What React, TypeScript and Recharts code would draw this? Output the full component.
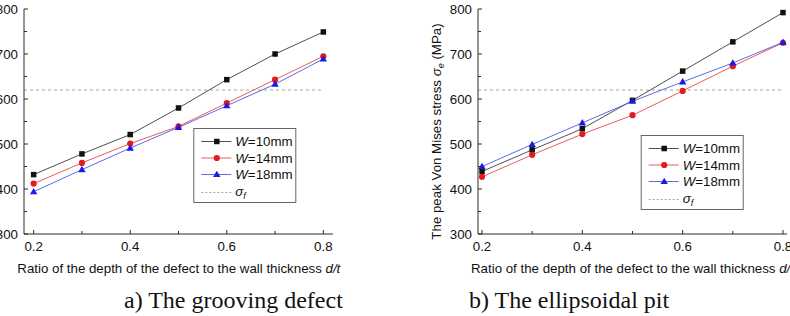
import React from "react";
import { LineChart, Line, XAxis, YAxis, ReferenceLine } from "recharts";

// depth-to-wall-thickness ratio d/t
const ratios = [0.2, 0.3, 0.4, 0.5, 0.6, 0.7, 0.8];

// peak von Mises stress (MPa), grooving defect
const grooveW10 = [432, 478, 521, 580, 643, 700, 749];
const grooveW14 = [412, 458, 501, 539, 591, 643, 695];
const grooveW18 = [394, 443, 491, 537, 585, 633, 689];

// peak von Mises stress (MPa), ellipsoidal pit
const pitW10 = [439, 487, 534, 597, 662, 727, 792];
const pitW14 = [427, 476, 522, 564, 618, 673, 725];
const pitW18 = [450, 499, 547, 595, 638, 680, 726];

// flow stress sigma_f
const flowStress = 620;

const xTicks = [0.2, 0.3, 0.4, 0.5, 0.6, 0.7, 0.8];
const yTicks = [300, 350, 400, 450, 500, 550, 600, 650, 700, 750, 800];
const widthLabels = ["10mm", "14mm", "18mm"];

const SANS = "'Liberation Sans', Arial, sans-serif";
const SERIF = "'Liberation Serif', 'Times New Roman', serif";
const FRAME = "#2a2a2a";
const DASH = "#9aab9f";

const SERIES = [
  { key: "w10", line: "#3c3c3c", fill: "#111111", shape: "square" },
  { key: "w14", line: "#e64a4a", fill: "#e31b1b", shape: "circle" },
  { key: "w18", line: "#4a5ae8", fill: "#1b1be6", shape: "triangle" },
];

const toRows = (w10: number[], w14: number[], w18: number[]) =>
  ratios.map((d, i) => ({ d, w10: w10[i], w14: w14[i], w18: w18[i] }));

const grooveRows = toRows(grooveW10, grooveW14, grooveW18);
const pitRows = toRows(pitW10, pitW14, pitW18);

function Marker({ shape, cx, cy, fill }: { shape: string; cx: number; cy: number; fill: string }) {
  if (shape === "square") {
    return <rect x={cx - 2.75} y={cy - 2.75} width={5.5} height={5.5} fill={fill} />;
  }
  if (shape === "circle") {
    return <circle cx={cx} cy={cy} r={3.1} fill={fill} />;
  }
  return (
    <polygon
      points={`${cx},${cy - 3.8} ${cx + 3.7},${cy + 2.6} ${cx - 3.7},${cy + 2.6}`}
      fill={fill}
    />
  );
}

// ticks point inward; unlabelled ones are the minor ticks
const renderXTick = (props: any) => {
  const { x, y, payload } = props;
  const major = Math.round(payload.value * 10) % 2 === 0;
  return (
    <g>
      <line x1={x} x2={x} y1={y} y2={y - (major ? 4 : 3)} stroke={FRAME} />
      {major && (
        <text x={x} y={y + 17.3} textAnchor="middle" fontFamily={SANS} fontSize={13.3} fill="#111">
          {payload.value.toFixed(1)}
        </text>
      )}
    </g>
  );
};

const renderYTick = (props: any) => {
  const { x, y, payload } = props;
  const major = payload.value % 100 === 0;
  return (
    <g>
      <line x1={x} x2={x + (major ? 4 : 3)} y1={y} y2={y} stroke={FRAME} />
      {major && (
        <text x={x - 6} y={y + 4.7} textAnchor="end" fontFamily={SANS} fontSize={13.3} fill="#111">
          {payload.value}
        </text>
      )}
    </g>
  );
};

function Panel({
  left,
  chartWidth,
  yAxisWidth,
  marginRight,
  domain,
  rows,
}: {
  left: number;
  chartWidth: number;
  yAxisWidth: number;
  marginRight: number;
  domain: [number, number];
  rows: any[];
}) {
  return (
    <div style={{ position: "absolute", left, top: 0 }}>
      <LineChart
        width={chartWidth}
        height={280}
        data={rows}
        margin={{ top: 9, right: marginRight, bottom: 6, left: 0 }}
      >
        <XAxis
          dataKey="d"
          type="number"
          domain={domain}
          ticks={xTicks}
          interval={0}
          tickSize={0}
          tickMargin={0}
          tickLine={false}
          tick={renderXTick}
          axisLine={{ stroke: FRAME }}
          height={40}
        />
        <XAxis
          xAxisId="top"
          orientation="top"
          dataKey="d"
          type="number"
          domain={domain}
          height={0}
          tick={false}
          tickLine={false}
          axisLine={{ stroke: FRAME }}
        />
        <YAxis
          type="number"
          domain={[300, 800]}
          ticks={yTicks}
          interval={0}
          tickSize={0}
          tickMargin={0}
          tickLine={false}
          tick={renderYTick}
          axisLine={{ stroke: FRAME }}
          width={yAxisWidth}
        />
        <YAxis
          yAxisId="right"
          orientation="right"
          type="number"
          domain={[300, 800]}
          width={0}
          tick={false}
          tickLine={false}
          axisLine={{ stroke: FRAME }}
        />
        <ReferenceLine
          segment={[
            { x: domain[0], y: flowStress },
            { x: 0.8, y: flowStress },
          ]}
          stroke={DASH}
          strokeDasharray="3 3"
        />
        {SERIES.map((s) => (
          <Line
            key={s.key}
            dataKey={s.key}
            type="linear"
            stroke={s.line}
            strokeWidth={0.9}
            isAnimationActive={false}
            dot={(p: any) => (
              <Marker key={`${s.key}-${p.index}`} shape={s.shape} cx={p.cx} cy={p.cy} fill={s.fill} />
            )}
            activeDot={false}
          />
        ))}
      </LineChart>
    </div>
  );
}

const legendRows = [13.5, 30, 46.5];

function LegendBox({ x, y }: { x: number; y: number }) {
  return (
    <g transform={`translate(${x},${y})`} fontFamily={SANS} fontSize={13.3} fill="#111">
      <rect x={0.5} y={0.5} width={102} height={74} fill="#fff" stroke="#666" />
      {SERIES.map((s, i) => {
        const cy = legendRows[i];
        return (
          <g key={s.key}>
            <line x1={8} x2={38} y1={cy} y2={cy} stroke={s.line} strokeWidth={0.9} />
            <Marker shape={s.shape} cx={23.5} cy={cy} fill={s.fill} />
            <text x={42} y={cy + 4.7}>
              <tspan fontStyle="italic">W</tspan>
              {"=" + widthLabels[i]}
            </text>
          </g>
        );
      })}
      <line x1={8} x2={38} y1={64.5} y2={64.5} stroke={DASH} strokeDasharray="2 2" />
      <text x={42} y={68}>
        <tspan fontStyle="italic">σ</tspan>
        <tspan fontStyle="italic" fontSize={9} dy={3}>f</tspan>
      </text>
    </g>
  );
}

function AxisTitle({ cx, y }: { cx: number; y: number }) {
  return (
    <text x={cx} y={y} textAnchor="middle" fontFamily={SANS} fontSize={13.3} fill="#111">
      Ratio of the depth of the defect to the wall thickness <tspan fontStyle="italic">d/t</tspan>
    </text>
  );
}

export default function App() {
  return (
    <div
      style={{
        position: "absolute",
        left: 0,
        top: 0,
        width: 790,
        height: 316,
        overflow: "hidden",
        background: "#fff",
      }}
    >
      <Panel left={0} chartWidth={345} yAxisWidth={24} marginRight={12} domain={[0.18, 0.82]} rows={grooveRows} />
      <Panel left={395} chartWidth={400} yAxisWidth={83} marginRight={8} domain={[0.192, 0.808]} rows={pitRows} />
      <svg
        width={790}
        height={316}
        style={{ position: "absolute", left: 0, top: 0, pointerEvents: "none" }}
      >
        <AxisTitle cx={178.8} y={273} />
        <AxisTitle cx={632.5} y={273} />
        <text
          transform="translate(441,131.5) rotate(-90)"
          textAnchor="middle"
          fontFamily={SANS}
          fontSize={13.3}
          fill="#111"
        >
          The peak Von Mises stress <tspan fontStyle="italic">σ</tspan>
          <tspan fontStyle="italic" fontSize={9} dy={3}>e</tspan>
          <tspan dy={-3}> (MPa)</tspan>
        </text>
        <LegendBox x={193.3} y={128} />
        <LegendBox x={640.7} y={135} />
        <text x={124} y={308.3} fontFamily={SERIF} fontSize={24} fill="#111">
          a) The grooving defect
        </text>
        <text x={469} y={308.3} fontFamily={SERIF} fontSize={24} fill="#111">
          b) The ellipsoidal pit
        </text>
      </svg>
    </div>
  );
}
